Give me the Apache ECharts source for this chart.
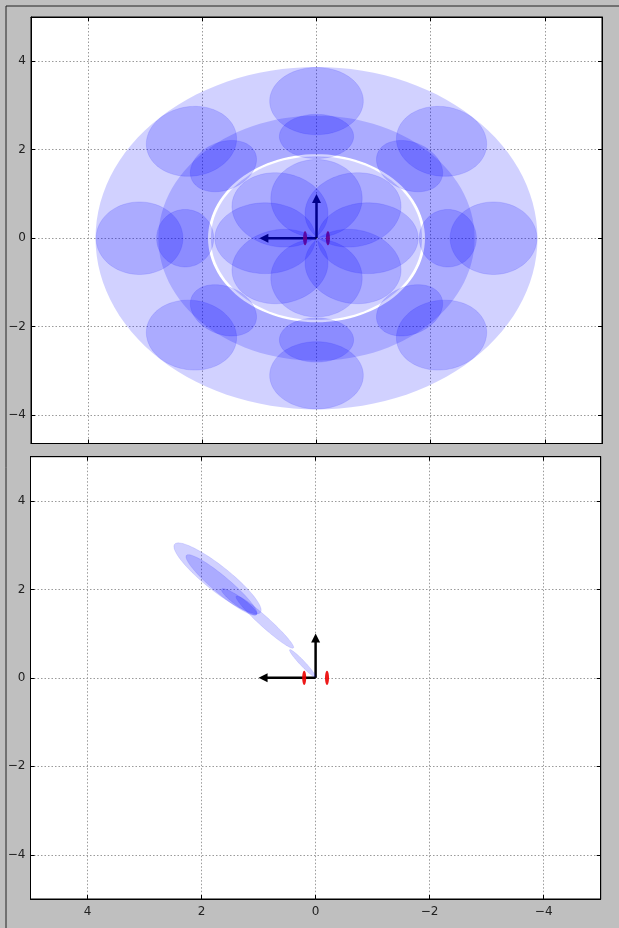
<!DOCTYPE html>
<html><head><meta charset="utf-8">
<script src="https://cdn.jsdelivr.net/npm/echarts@6/dist/echarts.min.js"></script>
<style>html,body{margin:0;padding:0;background:#bfbfbf;overflow:hidden}#c{width:619px;height:928px}</style>
</head><body><div id="c"></div>
<script>
// ---- tick labels ----
const xTicks = [-4, -2, 0, 2, 4];
const yTicks = [-4, -2, 0, 2, 4];

// ---- top panel: rings (annuli, inner radius 0 = full disk) ----
const ringOuterR = [3.87, 2.77, 1.85];
const ringInnerR = [1.90, 1.90, 0];

// ---- top panel: petal ellipses ----
const petalX = [3.1, 2.19, 0, -2.19, -3.1, -2.19, 0, 2.19,
                2.3, 1.63, 0, -1.63, -2.3, -1.63, 0, 1.63,
                0.9, 0.64, 0, -0.64, -0.9, -0.64, 0, 0.64];
const petalY = [0, 2.19, 3.1, 2.19, 0, -2.19, -3.1, -2.19,
                0, 1.63, 2.3, 1.63, 0, -1.63, -2.3, -1.63,
                0, 0.64, 0.9, 0.64, 0, -0.64, -0.9, -0.64];
const petalA = [0.76,0.76,0.76,0.76,0.76,0.76,0.76,0.76,
                0.50,0.50,0.50,0.50,0.50,0.50,0.50,0.50,
                0.88,0.88,0.88,0.88,0.88,0.88,0.88,0.88];
const petalB = [0.82,0.82,0.82,0.82,0.82,0.82,0.82,0.82,
                0.65,0.65,0.65,0.65,0.65,0.65,0.65,0.65,
                0.80,0.80,0.80,0.80,0.80,0.80,0.80,0.80];
const petalAngle = [0,45,90,135,180,225,270,315,
                    0,45,90,135,180,225,270,315,
                    0,45,90,135,180,225,270,315];

// ---- bottom panel: ellipses ----
const botX = [1.72, 0.89, 1.65, 1.34, 0.23];
const botY = [2.25, 1.26, 2.10, 1.72, 0.33];
const botA = [1.08, 0.77, 0.91, 0.42, 0.38];
const botB = [0.25, 0.10, 0.17, 0.09, 0.05];
const botAngle = [46.5, 49.6, 47.9, 43.5, 54];

// ---- robot: arrows and wheels ----
const arrowX = [1, 0];
const arrowY = [0, 1];
const wheelX = [0.2, -0.2];
const wheelY = [0, 0];
const wheelA = [0.035, 0.035];
const wheelB = [0.16, 0.16];

const BLUE = 'rgba(0,0,255,0.18)';
const BLUE_EDGE = 'rgba(0,0,255,0.10)';

function ellipsePts(api, cx, cy, a, b, angDeg, n) {
  const th = angDeg * Math.PI / 180, c = Math.cos(th), s = Math.sin(th), pts = [];
  for (let i = 0; i < n; i++) {
    const t = 2 * Math.PI * i / n;
    const lx = a * Math.cos(t), ly = b * Math.sin(t);
    pts.push(api.coord([cx + lx * c - ly * s, cy + lx * s + ly * c]));
  }
  return pts;
}
function ellipseRender(fill, stroke) {
  return function (params, api) {
    const pts = ellipsePts(api, api.value(0), api.value(1), api.value(2), api.value(3), api.value(4), 90);
    return { type: 'polygon', shape: { points: pts }, style: { fill: fill, stroke: stroke, lineWidth: 1 } };
  };
}
function ringRender(params, api) {
  const outer = ellipsePts(api, 0, 0, api.value(0), api.value(0), 0, 120);
  if (api.value(1) <= 0) {
    return { type: 'polygon', shape: { points: outer }, style: { fill: BLUE, stroke: null } };
  }
  const inner = ellipsePts(api, 0, 0, api.value(1), api.value(1), 0, 120).reverse();
  return { type: 'polygon', shape: { points: outer.concat([outer[0]], [inner[inner.length-1]], inner) }, style: { fill: BLUE, stroke: null } };
}
function arrowRender(params, api) {
  const p0 = api.coord([0, 0]), p1 = api.coord([api.value(0), api.value(1)]);
  const dx = p1[0] - p0[0], dy = p1[1] - p0[1], L = Math.hypot(dx, dy);
  const ux = dx / L, uy = dy / L, hl = 9, hw = 4.5;
  const base = [p1[0] - ux * hl, p1[1] - uy * hl];
  return { type: 'group', children: [
    { type: 'line', shape: { x1: p0[0], y1: p0[1], x2: base[0] + ux, y2: base[1] + uy }, style: { stroke: '#000', lineWidth: 2.5 } },
    { type: 'polygon', shape: { points: [p1, [base[0] - uy * hw, base[1] + ux * hw], [base[0] + uy * hw, base[1] - ux * hw]] }, style: { fill: '#000' } }
  ]};
}

const fmt = v => (v < 0 ? '\u2212' + Math.abs(v) : String(v));
const grids = [
  { left: 31, top: 17, right: 17, bottom: 484.5 },
  { left: 30.5, top: 456.7, right: 18.3, bottom: 29 }
];
const yRanges = [[-4.64, 5], [-5, 5]];
const xAxes = [], yAxes = [];
grids.forEach((g, i) => {
  ['bottom', 'top'].forEach(pos => {
    xAxes.push({ gridIndex: i, type: 'value', min: -5, max: 5, inverse: true, position: pos,
      axisLine: { show: true, onZero: false, lineStyle: { color: '#000', width: 1 } },
      axisTick: { show: true, inside: true, length: 4, customValues: xTicks, lineStyle: { color: '#000' } },
      axisLabel: { show: pos === 'bottom' && i === 1, customValues: xTicks, formatter: fmt, color: '#222', fontSize: 12, fontFamily: 'DejaVu Sans', margin: 7 },
      splitLine: { show: pos === 'bottom', lineStyle: { color: '#9a9a9a', type: [1.5, 2], width: 1 } } });
  });
  ['left', 'right'].forEach(pos => {
    yAxes.push({ gridIndex: i, type: 'value', min: yRanges[i][0], max: yRanges[i][1], position: pos,
      axisLine: { show: true, onZero: false, lineStyle: { color: '#000', width: 1 } },
      axisTick: { show: true, inside: true, length: 4, customValues: yTicks, lineStyle: { color: '#000' } },
      axisLabel: { show: pos === 'left', customValues: yTicks, formatter: fmt, color: '#222', fontSize: 12, fontFamily: 'DejaVu Sans', margin: 5 },
      splitLine: { show: pos === 'left', lineStyle: { color: '#9a9a9a', type: [1.5, 2], width: 1 } } });
  });
});

const series = [];
[0, 1].forEach(i => {
  const xi = i * 2, yi = i * 2;
  series.push({ type: 'custom', xAxisIndex: xi, yAxisIndex: yi, z: 2, renderItem: arrowRender, silent: true,
    data: arrowX.map((x, k) => [x, arrowY[k]]) });
  series.push({ type: 'custom', xAxisIndex: xi, yAxisIndex: yi, z: 3, renderItem: ellipseRender('rgba(235,0,0,0.9)', null), silent: true,
    data: wheelX.map((x, k) => [x, wheelY[k], wheelA[k], wheelB[k], 0]) });
});
series.push({ type: 'custom', xAxisIndex: 0, yAxisIndex: 0, z: 5, renderItem: ringRender, silent: true,
  data: ringOuterR.map((r, k) => [r, ringInnerR[k]]) });
series.push({ type: 'custom', xAxisIndex: 0, yAxisIndex: 0, z: 6, renderItem: ellipseRender(BLUE, BLUE_EDGE), silent: true,
  data: petalX.map((x, k) => [x, petalY[k], petalA[k], petalB[k], petalAngle[k]]) });
series.push({ type: 'custom', xAxisIndex: 2, yAxisIndex: 2, z: 6, renderItem: ellipseRender(BLUE, BLUE_EDGE), silent: true,
  data: botX.map((x, k) => [x, botY[k], botA[k], botB[k], botAngle[k]]) });

const chart = echarts.init(document.getElementById('c'), null, { renderer: 'canvas' });
chart.setOption({
  animation: false,
  backgroundColor: '#bfbfbf',
  graphic: [{ type: 'rect', shape: { x: 6, y: 6, width: 700, height: 1000 }, style: { fill: null, stroke: '#222', lineWidth: 1 }, z: -1 }],
  grid: grids.map(g => Object.assign({ show: true, backgroundColor: '#fff', borderColor: '#000', borderWidth: 1 }, g)),
  xAxis: xAxes, yAxis: yAxes, series: series
});
</script></body></html>
